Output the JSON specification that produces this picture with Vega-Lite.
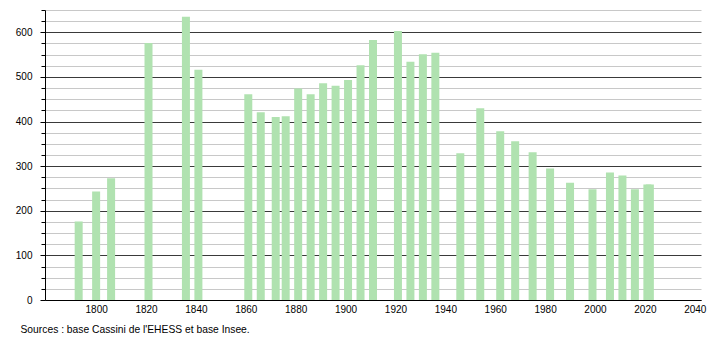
{
  "$schema": "https://vega.github.io/schema/vega-lite/v6.json",
  "width": 656,
  "height": 290,
  "autosize": {"type": "none"},
  "padding": {"left": 45, "top": 10, "right": 9, "bottom": 40},
  "background": "white",
  "config": {
    "view": {"stroke": null},
    "font": "Liberation Sans",
    "axis": {"labelFont": "Liberation Sans", "titleFont": "Liberation Sans"}
  },
  "data": {
    "values": [
      {"annee": 1793, "population": 176},
      {"annee": 1800, "population": 243},
      {"annee": 1806, "population": 273},
      {"annee": 1821, "population": 576},
      {"annee": 1836, "population": 635},
      {"annee": 1841, "population": 516},
      {"annee": 1861, "population": 461},
      {"annee": 1866, "population": 421},
      {"annee": 1872, "population": 410},
      {"annee": 1876, "population": 412},
      {"annee": 1881, "population": 474},
      {"annee": 1886, "population": 461},
      {"annee": 1891, "population": 486},
      {"annee": 1896, "population": 480},
      {"annee": 1901, "population": 493},
      {"annee": 1906, "population": 526},
      {"annee": 1911, "population": 583},
      {"annee": 1921, "population": 603},
      {"annee": 1926, "population": 534},
      {"annee": 1931, "population": 551},
      {"annee": 1936, "population": 554},
      {"annee": 1946, "population": 329},
      {"annee": 1954, "population": 430},
      {"annee": 1962, "population": 378},
      {"annee": 1968, "population": 356},
      {"annee": 1975, "population": 331},
      {"annee": 1982, "population": 295},
      {"annee": 1990, "population": 263},
      {"annee": 1999, "population": 248},
      {"annee": 2006, "population": 286},
      {"annee": 2011, "population": 279},
      {"annee": 2016, "population": 248},
      {"annee": 2021, "population": 259},
      {"annee": 2022, "population": 259}
    ]
  },
  "mark": {"type": "bar", "size": 8, "color": "#b0e2b0", "opacity": 1},
  "encoding": {
    "x": {
      "field": "annee",
      "type": "quantitative",
      "scale": {"domain": [1779.5, 2042.5], "nice": false, "zero": false, "padding": 0},
      "axis": {
        "values": [1800, 1820, 1840, 1860, 1880, 1900, 1920, 1940, 1960, 1980, 2000, 2020, 2040],
        "format": "d",
        "grid": false,
        "ticks": false,
        "labelFontSize": 10,
        "labelColor": "#000",
        "labelPadding": 4,
        "labelFlush": false,
        "labelOverlap": false,
        "domainColor": "#000",
        "domainWidth": 1,
        "title": "Sources : base Cassini de l'EHESS et base Insee.",
        "titleFontSize": 10.3,
        "titleFontWeight": "normal",
        "titleColor": "#000",
        "titleX": -25,
        "titleY": 32,
        "titleAlign": "left",
        "titleAnchor": "start",
        "titleBaseline": "alphabetic"
      }
    },
    "y": {
      "field": "population",
      "type": "quantitative",
      "scale": {"domain": [0, 650], "nice": false},
      "axis": {
        "values": [0, 25, 50, 75, 100, 125, 150, 175, 200, 225, 250, 275, 300, 325, 350, 375, 400, 425, 450, 475, 500, 525, 550, 575, 600, 625, 650],
        "labelExpr": "datum.value % 100 === 0 ? datum.value : ''",
        "grid": true,
        "gridColor": {"condition": {"test": "datum.value % 100 === 0", "value": "#3a3a3a"}, "value": "#c8c8c8"},
        "gridWidth": 1,
        "gridOpacity": 1,
        "tickColor": "#000",
        "tickSize": {"condition": {"test": "datum.value % 100 === 0", "value": 5}, "value": 4},
        "labelFontSize": 10,
        "labelColor": "#000",
        "labelPadding": 8,
        "labelOverlap": false,
        "labelFlush": false,
        "domainColor": "#000",
        "domainWidth": 1,
        "title": null
      }
    }
  }
}
